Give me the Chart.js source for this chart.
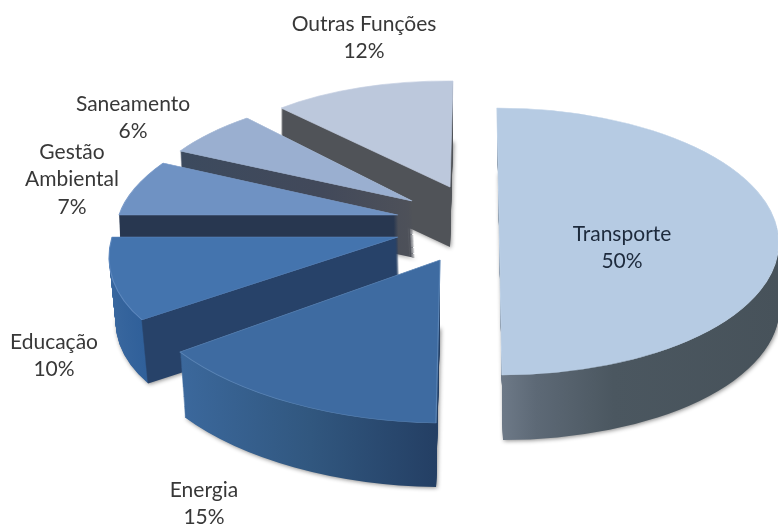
<!DOCTYPE html>
<html lang="pt">

<head>
    <meta charset="UTF-8">
    <title>Funções</title>
    <script src="https://cdn.jsdelivr.net/npm/chart.js"></script>
    <style>
        body { margin: 0; background: white; overflow: hidden; }
        canvas { display: block; }
    </style>
</head>

<body>
    <canvas id="grafico" width="778" height="524"></canvas>
</body>

</html>
<script>

    const categorias = ["Transporte", "Energia", "Educação", "Gestão Ambiental", "Saneamento", "Outras Funções"];
    const valores = [50, 15, 10, 7, 6, 12];

    const coresTopo = ["#b6cbe3", "#3e6ba1", "#4474ae", "#6f92c3", "#9aafd0", "#bcc8dc"];
    const coresBorda = ["#bfd2e7", "#5a84b5", "#5f89bf", "#7c9cca", "#a6b9d6", "#c4cfe1"];

    // a fake 3D view: each slice gets its own squash/shear, since the original has perspective
    // [x, y, xx, xy, yx, yy, profundidade, inclinacao, encolhe]
    const vistas = [
        [499.5, 241.5, 279, 0, 2.5, 133.5, 65, 1, 0],
        [440, 260, 318.5, 4.7, -4, 163, 67, 0, 0.018],
        [398, 237, 286, 0, -41.8, 141, 65, 2, 0.016],
        [398, 215, 279, 0, -41, 122, 60, 1, 0.005],
        [412, 201, 268.6, 3, -26, 111, 57, 3, 0],
        [450, 187, 250, 2.5, -3, 106, 60, 0, 0]
    ];

    // side wall colours, stops along the arc's x going from -1 to 1
    const paredes = [
        [[0, "#6d7987"], [0.12, "#5d6976"], [0.4, "#4b5760"], [1, "#47525a"]],
        [[-0.81, "#3b689c"], [-0.4, "#31577f"], [0, "#243f64"]],
        [[-1, "#3a689f"], [-0.815, "#30609a"], [-0.809, "#274269"], [0, "#274269"]],
        [[-1, "#283750"], [1, "#283750"]],
        [[-0.9, "#3c4a5e"], [-0.35, "#42495a"], [0, "#4e5159"]],
        [[-1, "#505358"], [1, "#505358"]]
    ];

    const rotulos = [
        [622, 234, ["Transporte", "50%"]],
        [204, 490, ["Energia", "15%"]],
        [54, 342, ["Educação", "10%"]],
        [72, 152, ["Gestão", "Ambiental", "7%"]],
        [133, 104, ["Saneamento", "6%"]],
        [364, 24, ["Outras Funções", "12%"]]
    ];

    function desenhaFatia(ctx, arco, i) {
        const v = vistas[i];
        const r = arco.outerRadius;
        const original = arco.options;

        const aplica = (dx, dy, escala) => {
            const s = escala / r;
            ctx.translate(v[0] + dx, v[1] + dy);
            ctx.transform(v[2] * s, v[3] * s, v[4] * s, v[5] * s, 0, 0);
            ctx.translate(-arco.x, -arco.y);
        };

        const grad = ctx.createLinearGradient(arco.x - r, 0, arco.x + r, 0);
        paredes[i].forEach(p => grad.addColorStop((p[0] + 1) / 2, p[1]));
        const parede = Object.create(original);
        parede.backgroundColor = grad;
        parede.borderWidth = 0;
        arco.options = parede;

        // extrude downwards, only the last layer throws the shadow
        for (let k = v[6]; k >= 1; k--) {
            const t = k / v[6];
            ctx.save();
            if (k === v[6]) {
                ctx.shadowColor = "rgba(0, 0, 0, 0.45)";
                ctx.shadowBlur = 4;
                ctx.shadowOffsetX = 1;
                ctx.shadowOffsetY = 1;
            }
            aplica(v[7] * t, k, 1 - v[8] * t);
            arco.draw(ctx);
            ctx.restore();
        }

        arco.options = original;
        ctx.save();
        aplica(0, 0, 1);
        arco.draw(ctx);
        ctx.restore();
    }

    const pizza3d = {
        id: "pizza3d",
        beforeDatasetsDraw(chart) {
            const fatias = chart.getDatasetMeta(0).data;
            for (let i = fatias.length - 1; i >= 0; i--) {
                desenhaFatia(chart.ctx, fatias[i], i);
            }
            return false;
        },
        afterDraw(chart) {
            const ctx = chart.ctx;
            ctx.save();
            ctx.font = "21px Lato";
            ctx.textAlign = "center";
            ctx.textBaseline = "middle";
            rotulos.forEach((rot, i) => {
                ctx.fillStyle = i === 0 ? "#1d2a3c" : "#383838";
                rot[2].forEach((linha, n) => {
                    ctx.fillText(linha, rot[0], rot[1] + n * 27.5);
                });
            });
            ctx.restore();
        }
    };

    new Chart(document.getElementById("grafico"), {
        type: "pie",
        data: {
            labels: categorias,
            datasets: [{
                data: valores,
                backgroundColor: coresTopo,
                borderColor: coresBorda,
                borderWidth: 1
            }]
        },
        options: {
            responsive: false,
            animation: false,
            plugins: {
                legend: { display: false },
                tooltip: { enabled: false }
            }
        },
        plugins: [pizza3d]
    });

</script>
